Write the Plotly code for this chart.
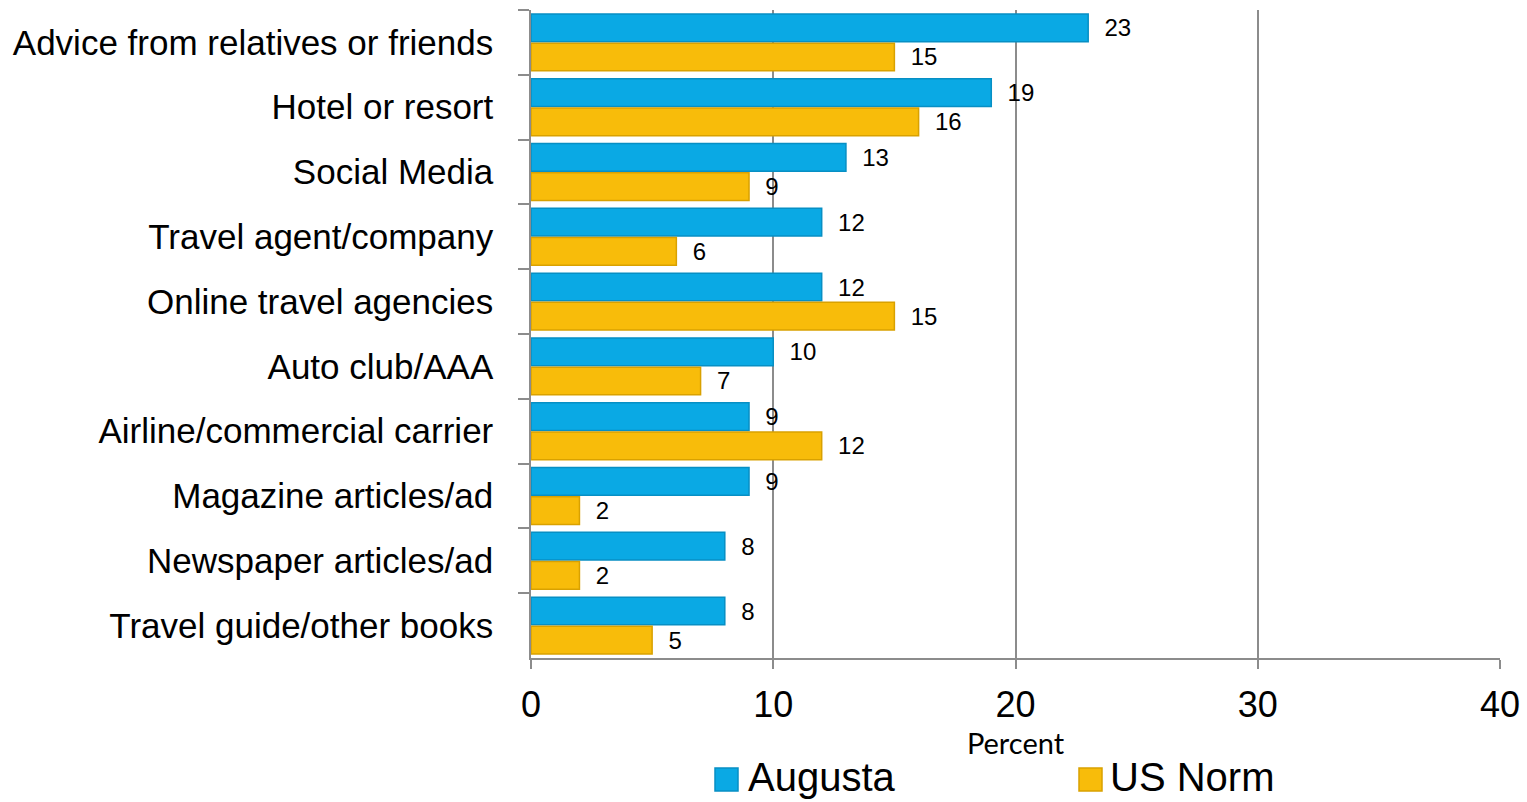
import plotly.graph_objects as go

# Information sources used when planning a trip (percent of respondents)
categories = [
    "Advice from relatives or friends",
    "Hotel or resort",
    "Social Media",
    "Travel agent/company",
    "Online travel agencies",
    "Auto club/AAA",
    "Airline/commercial carrier",
    "Magazine articles/ad",
    "Newspaper articles/ad",
    "Travel guide/other books",
]
augusta = [23, 19, 13, 12, 12, 10, 9, 9, 8, 8]
us_norm = [15, 16, 9, 6, 15, 7, 12, 2, 2, 5]
x_ticks = [0, 10, 20, 30, 40]

series_names = ["Augusta", "US Norm"]
fill_colors = ["#0AA9E4", "#F8BC0A"]
edge_colors = ["#078FC4", "#D9A100"]

W, H = 1527, 802
M_L, M_R, M_T, M_B = 531, 27, 10, 144
PLOT_W = W - M_L - M_R
PLOT_H = H - M_T - M_B

SANS = "Liberation Sans, Arial, sans-serif"
GRID = "#8C8C8C"


def px_x(p):
    return (p - M_L) / PLOT_W


def px_y(p):
    return (H - M_B - p) / PLOT_H


fig = go.Figure()
for name, vals, fc, ec in zip(series_names, [augusta, us_norm], fill_colors, edge_colors):
    fig.add_trace(go.Bar(
        name=name,
        y=categories,
        x=vals,
        orientation="h",
        marker=dict(color=fc, line=dict(color=ec, width=1.5)),
        texttemplate="\u00a0\u00a0%{x}",
        textposition="outside",
        constraintext="none",
        cliponaxis=False,
        textfont=dict(family=SANS, size=24, color="#000000"),
        showlegend=False,
    ))

# Legend drawn below the axis title: swatch squares plus labels
legend_items = [(715, 738, 746), (1079, 1102, 1108)]
for (sx0, sx1, tx), name, fc, ec in zip(legend_items, series_names, fill_colors, edge_colors):
    fig.add_shape(
        type="rect", xref="paper", yref="paper",
        x0=px_x(sx0), x1=px_x(sx1), y0=px_y(791), y1=px_y(768),
        fillcolor=fc, line=dict(color=ec, width=1.5),
    )
    fig.add_annotation(
        text=name, xref="paper", yref="paper",
        x=px_x(tx), y=px_y(777), xanchor="left", yanchor="middle",
        showarrow=False, font=dict(family=SANS, size=40, color="#000000"),
    )

fig.update_layout(
    width=W, height=H,
    margin=dict(l=M_L, r=M_R, t=M_T, b=M_B, autoexpand=False),
    paper_bgcolor="white", plot_bgcolor="white",
    barmode="group", bargap=0.1, bargroupgap=0.05,
    showlegend=False,
    xaxis=dict(
        range=[0, 40], tickvals=x_ticks, ticktext=[str(v) for v in x_ticks],
        showgrid=True, gridcolor=GRID, gridwidth=1.5,
        showline=True, linecolor=GRID, linewidth=1.5,
        ticks="outside", ticklen=9, tickwidth=1.5, tickcolor=GRID,
        tickfont=dict(family=SANS, size=36, color="#000000"),
        ticklabelstandoff=5,
        zeroline=False,
        title=dict(text="Percent", standoff=2,
                   font=dict(family="Lato, Open Sans, sans-serif", size=29, color="#000000")),
        automargin=False,
    ),
    yaxis=dict(
        categoryorder="array", categoryarray=categories, autorange="reversed",
        tickson="boundaries", showgrid=False,
        showline=True, linecolor=GRID, linewidth=1.5,
        ticks="outside", ticklen=11, tickwidth=1.5, tickcolor=GRID,
        tickfont=dict(family=SANS, size=35, color="#000000"),
        ticklabelstandoff=29,
        automargin=False,
    ),
)

fig.write_html("out.html")
